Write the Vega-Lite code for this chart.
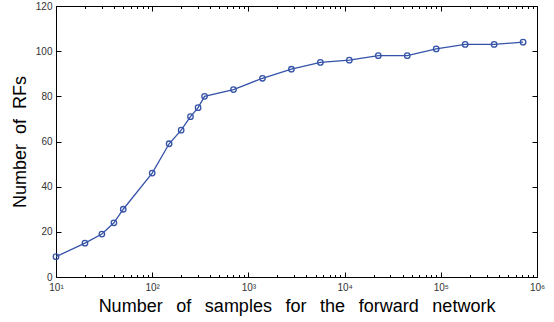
{
  "$schema": "https://vega.github.io/schema/vega-lite/v6.json",
  "autosize": "none",
  "width": 481,
  "height": 271,
  "padding": {"left": 56, "top": 6, "right": 17, "bottom": 45},
  "background": "white",
  "config": {
    "view": {"stroke": "black", "strokeWidth": 1},
    "axis": {
      "labelFont": "Liberation Sans",
      "labelFontSize": 10,
      "labelColor": "#333333",
      "titleFont": "Liberation Sans",
      "titleFontSize": 18,
      "titleFontWeight": "normal",
      "titleColor": "black",
      "grid": false,
      "domain": false,
      "tickColor": "black",
      "tickWidth": 1
    }
  },
  "data": {
    "values": [
      {"samples": 10, "rfs": 9},
      {"samples": 20, "rfs": 15},
      {"samples": 30, "rfs": 19},
      {"samples": 40, "rfs": 24},
      {"samples": 50, "rfs": 30},
      {"samples": 100, "rfs": 46},
      {"samples": 150, "rfs": 59},
      {"samples": 200, "rfs": 65},
      {"samples": 250, "rfs": 71},
      {"samples": 300, "rfs": 75},
      {"samples": 350, "rfs": 80},
      {"samples": 700, "rfs": 83},
      {"samples": 1400, "rfs": 88},
      {"samples": 2800, "rfs": 92},
      {"samples": 5600, "rfs": 95},
      {"samples": 11200, "rfs": 96},
      {"samples": 22400, "rfs": 98},
      {"samples": 44800, "rfs": 98},
      {"samples": 89600, "rfs": 101},
      {"samples": 179200, "rfs": 103},
      {"samples": 358400, "rfs": 103},
      {"samples": 716800, "rfs": 104}
    ]
  },
  "resolve": {"axis": {"x": "independent", "y": "independent"}},
  "layer": [
    {
      "mark": {"type": "line", "color": "#3452a8", "strokeWidth": 1.3},
      "encoding": {
        "x": {
          "field": "samples", "type": "quantitative",
          "scale": {"type": "log", "domain": [10, 1000000], "nice": false},
          "axis": {
            "orient": "bottom",
            "title": "Number\u00a0\u2009 of\u00a0\u2009 samples\u00a0\u2009 for\u00a0\u2009 the\u00a0\u2009 forward\u00a0\u2009 network",
            "titlePadding": 3,
            "values": [10,20,30,40,50,60,70,80,90,100,200,300,400,500,600,700,800,900,1000,2000,3000,4000,5000,6000,7000,8000,9000,10000,20000,30000,40000,50000,60000,70000,80000,90000,100000,200000,300000,400000,500000,600000,700000,800000,900000,1000000],
            "labelExpr": "indexof([10,100,1000,10000,100000,1000000], datum.value) >= 0 ? '10' + ['','\u00b9','\u00b2','\u00b3','\u2074','\u2075','\u2076'][round(log(datum.value)/LN10)] : ''",
            "labelOverlap": false,
            "labelFlush": false,
            "labelPadding": 10,
            "tickSize": {"condition": {"test": "indexof([10,100,1000,10000,100000,1000000], datum.value) >= 0", "value": -5}, "value": -2.5}
          }
        },
        "y": {
          "field": "rfs", "type": "quantitative",
          "scale": {"domain": [0, 120], "nice": false},
          "axis": {
            "orient": "left",
            "title": "Number\u00a0 of\u00a0 RFs",
            "titlePadding": 6,
            "values": [0,20,40,60,80,100,120],
            "tickSize": -5,
            "labelPadding": 9
          }
        }
      }
    },
    {
      "mark": {"type": "point", "shape": "circle", "filled": false, "color": "#3452a8", "size": 30, "strokeWidth": 1.3, "opacity": 1},
      "encoding": {
        "x": {
          "field": "samples", "type": "quantitative",
          "scale": {"type": "log", "domain": [10, 1000000], "nice": false},
          "axis": {
            "orient": "top",
            "title": null,
            "labels": false,
            "values": [10,20,30,40,50,60,70,80,90,100,200,300,400,500,600,700,800,900,1000,2000,3000,4000,5000,6000,7000,8000,9000,10000,20000,30000,40000,50000,60000,70000,80000,90000,100000,200000,300000,400000,500000,600000,700000,800000,900000,1000000],
            "tickSize": {"condition": {"test": "indexof([10,100,1000,10000,100000,1000000], datum.value) >= 0", "value": -5}, "value": -2.5}
          }
        },
        "y": {
          "field": "rfs", "type": "quantitative",
          "scale": {"domain": [0, 120], "nice": false},
          "axis": {
            "orient": "right",
            "title": null,
            "labels": false,
            "values": [0,20,40,60,80,100,120],
            "tickSize": -5
          }
        }
      }
    }
  ]
}
